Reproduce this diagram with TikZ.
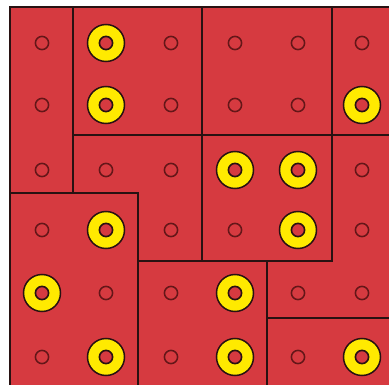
\documentclass[tikz,border=0pt]{standalone}
\usepackage{tikz}
\definecolor{tilered}{RGB}{214,58,64}
\definecolor{ringyellow}{RGB}{255,234,0}
\definecolor{holeline}{RGB}{100,22,24}
\definecolor{edgeline}{RGB}{40,18,18}
\tikzset{
  tile/.style={fill=tilered,draw=edgeline,line width=2.5pt,line join=miter},
  hole/.style={draw=holeline,line width=1.5pt},
  ringhole/.style={fill=tilered,draw=edgeline,line width=1.6pt},
  ring/.style={fill=ringyellow,draw=edgeline,line width=1.5pt}
}
\begin{document}
\begin{tikzpicture}[x=1pt,y=-1pt]
\useasboundingbox (0,0) rectangle (389,385);
\clip (0,0) rectangle (389,385);
% tiles
\draw[tile] (10,7) -- (73,7) -- (73,193) -- (10,193) -- cycle;
\draw[tile] (73,7) -- (202,7) -- (202,135) -- (73,135) -- cycle;
\draw[tile] (202,7) -- (332,7) -- (332,135) -- (202,135) -- cycle;
\draw[tile] (332,7) -- (396,7) -- (396,135) -- (332,135) -- cycle;
\draw[tile] (73,135) -- (202,135) -- (202,261) -- (138,261) -- (138,193) -- (73,193) -- cycle;
\draw[tile] (10,193) -- (138,193) -- (138,392) -- (10,392) -- cycle;
\draw[tile] (202,135) -- (332,135) -- (332,261) -- (202,261) -- cycle;
\draw[tile] (332,135) -- (396,135) -- (396,318) -- (267,318) -- (267,261) -- (332,261) -- cycle;
\draw[tile] (138,261) -- (267,261) -- (267,392) -- (138,392) -- cycle;
\draw[tile] (267,318) -- (396,318) -- (396,392) -- (267,392) -- cycle;
% small holes
\foreach \cx in {42,106,171,235,298,362}{
  \foreach \cy in {43,105,170,230,293,357}{
    \draw[hole] (\cx,\cy) circle[radius=6.6];
  }
}
% yellow rings
\foreach \c/\r in {2/1,2/2,6/2,4/3,5/3,5/4,2/4,1/5,4/5,2/6,4/6,6/6}{
  \pgfmathsetmacro{\cx}{{0,42,106,171,235,298,362}[\c]}
  \pgfmathsetmacro{\cy}{{0,43,105,170,230,293,357}[\r]}
  \draw[ring] (\cx,\cy) circle[radius=18.5];
  \draw[ringhole] (\cx,\cy) circle[radius=6.6];
}
\end{tikzpicture}
\end{document}
